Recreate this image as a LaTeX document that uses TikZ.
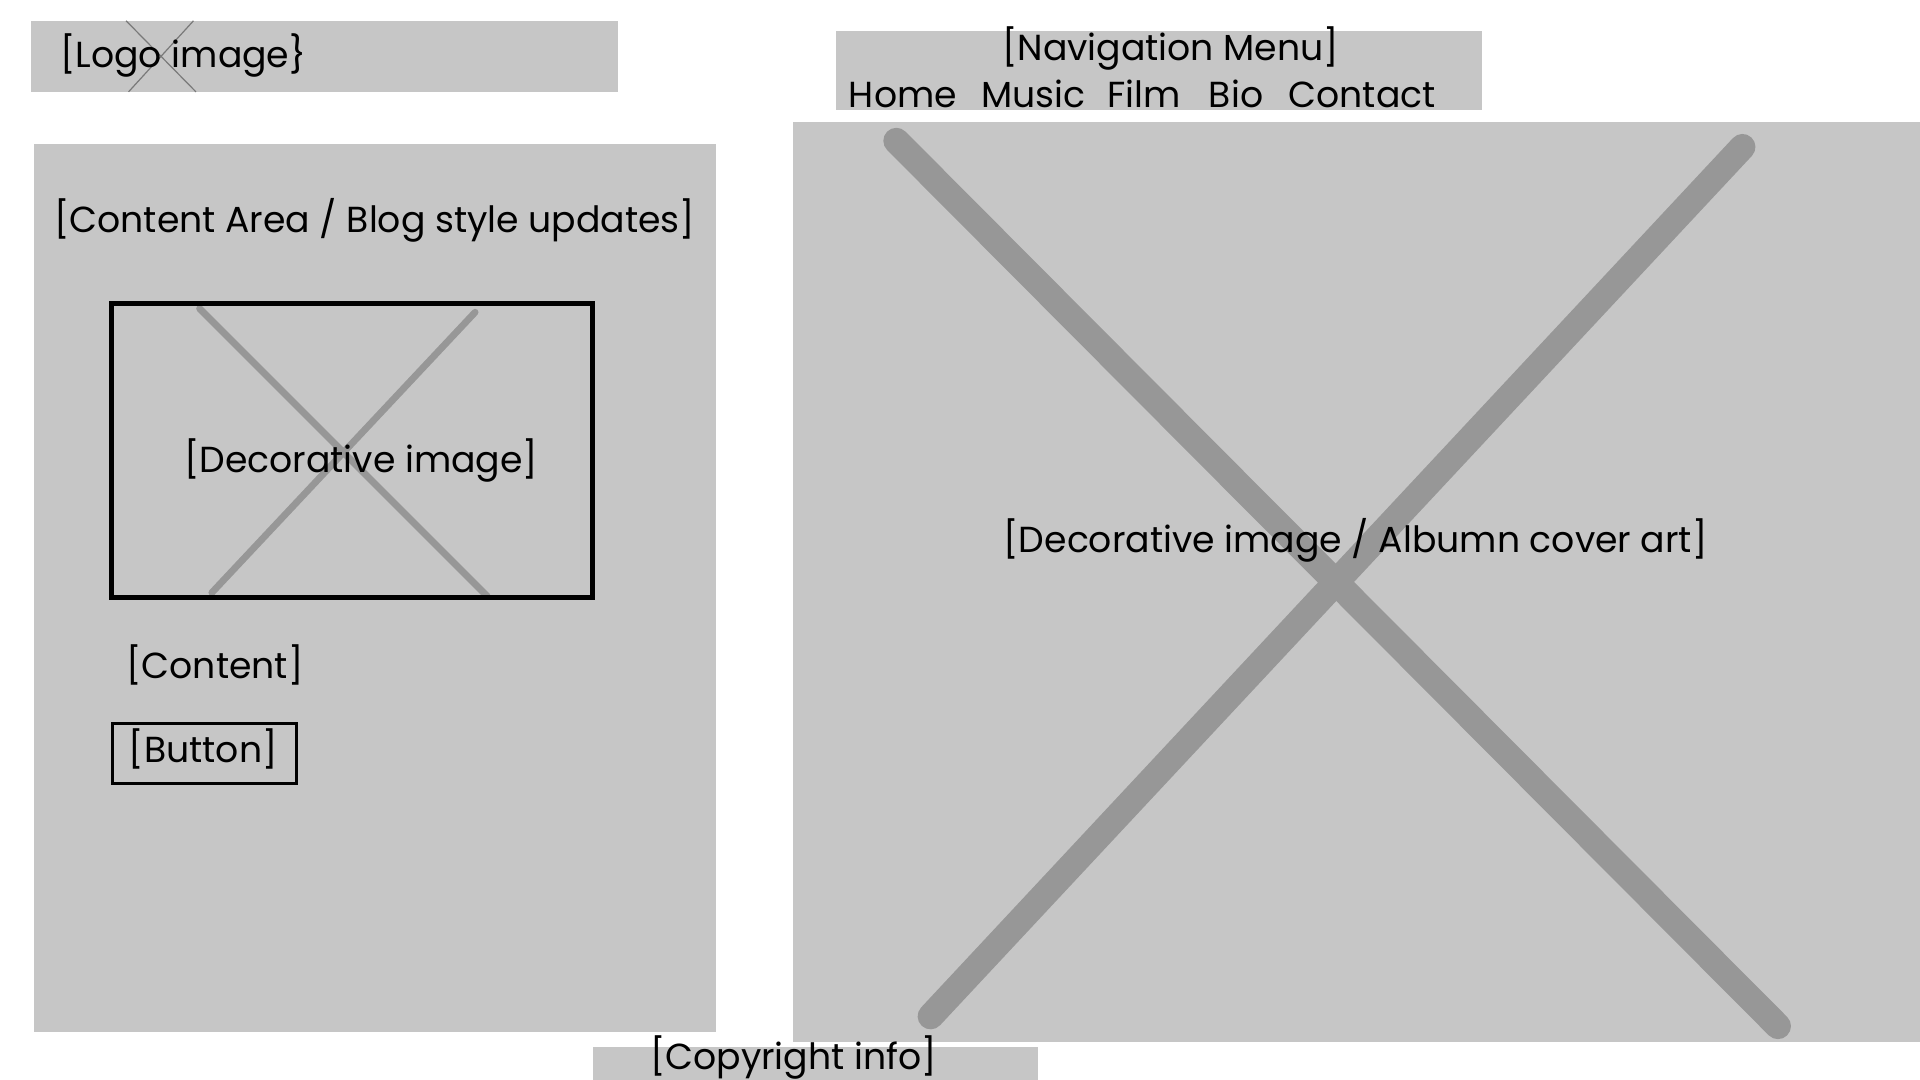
\documentclass[tikz,border=0pt]{standalone}
\usepackage{fontspec}
\setmainfont{Poppins}
\begin{document}
\begin{tikzpicture}[x=0.6122pt,y=-0.6122pt,
  panel/.style={fill=panelgray,draw=none},
  label/.style={font=\fontsize{18.1}{20}\selectfont,text=black,inner sep=0pt},
  crossthin/.style={draw=crossgray!80!black,line width=0.6pt},
  crossmid/.style={draw=crossgray,line width=3.4pt,line cap=round},
  crossbig/.style={draw=crossgray,line width=13pt,line cap=round}]
\definecolor{panelgray}{HTML}{C6C6C6}
\definecolor{crossgray}{HTML}{979797}
\useasboundingbox (0,0) rectangle (1568,882);
\clip (0,0) rectangle (1568,882);
\fill[white] (0,0) rectangle (1568,882);

% header: logo
\fill[panel] (25,17) rectangle (505,75);
\coordinate (lga) at (103,17); \coordinate (lgb) at (160,75);
\coordinate (lgc) at (158,17); \coordinate (lgd) at (105,75);
\draw[crossthin] (lga) -- (lgb);
\draw[crossthin] (lgc) -- (lgd);
\node[label,anchor=west] (logo) at (49,45) {[Logo image\}};

% header: navigation
\fill[panel] (683,25) rectangle (1210,90);
\node[label] (navtitle) at (956,40) {[Navigation Menu]};
\node[label,anchor=base west] (navhome) at (693,88) {Home};
\node[label,anchor=base west] (navmusic) at (801,88) {Music};
\node[label,anchor=base west] (navfilm) at (904,88) {Film};
\node[label,anchor=base west] (navbio) at (987,88) {Bio};
\node[label,anchor=base west] (navcontact) at (1052,88) {Contact};

% left column: content area
\fill[panel] (28,118) rectangle (585,843);
\node[label] (contenttitle) at (306,180) {[Content Area / Blog style updates]};
\coordinate (dia) at (163,252); \coordinate (dib) at (398,487);
\coordinate (dic) at (388,255); \coordinate (did) at (173,484);
\draw[crossmid] (dia) -- (dib);
\draw[crossmid] (dic) -- (did);
\draw[line width=2.2pt] (91,248) rectangle (484,488);
\node[label] (decimg) at (295,376) {[Decorative image]};
\node[label,anchor=west] (content) at (103,543) {[Content]};
\node[draw=black,line width=1.3pt,minimum width=150*0.6122pt,minimum height=49*0.6122pt,
  inner sep=0pt,anchor=north west] (button) at (91,590) {};
\node[label] (buttontext) at (166,612) {[Button]};

% right column: album art
\fill[panel] (648,100) rectangle (1568,851);
\coordinate (ala) at (732,115); \coordinate (alb) at (1452,838);
\coordinate (alc) at (1423,120); \coordinate (ald) at (760,830);
\draw[crossbig] (ala) -- (alb);
\draw[crossbig] (alc) -- (ald);
\node[label] (album) at (1107,441) {[Decorative image / Albumn cover art]};

% footer
\fill[panel] (484,855) rectangle (848,890);
\node[label] (copyright) at (648,864) {[Copyright info]};
\end{tikzpicture}
\end{document}
